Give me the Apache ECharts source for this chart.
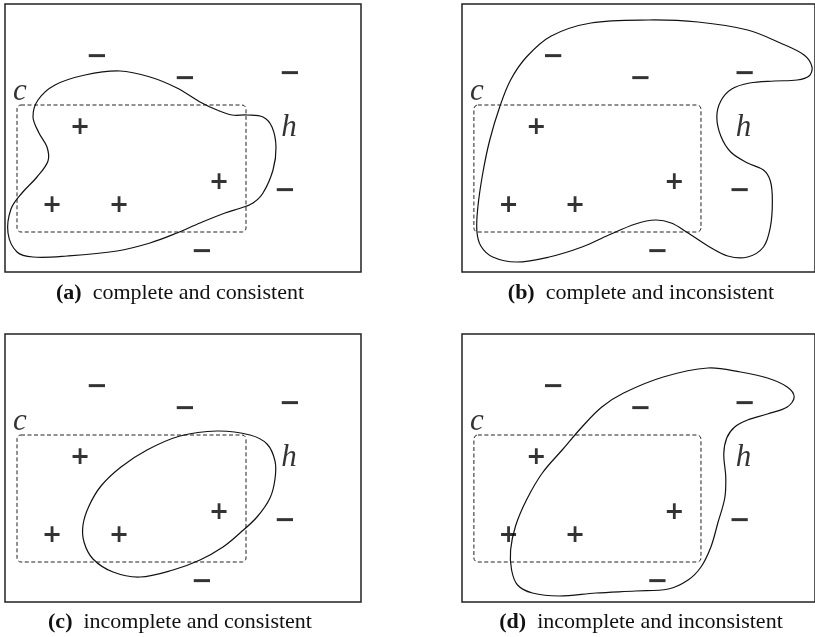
<!DOCTYPE html>
<html><head><meta charset="utf-8">
<script src="https://cdn.jsdelivr.net/npm/echarts@6.0.0/dist/echarts.min.js"></script>
<style>html,body{margin:0;padding:0;background:#fff}#c{width:815px;height:637px}</style>
</head><body><div id="c"></div>
<script>
// ---- data (diagram coordinates, one unit = one panel pixel) ----
const panelTags = ['(a)', '(b)', '(c)', '(d)'];
const panelTexts = ['complete and consistent', 'complete and inconsistent', 'incomplete and consistent', 'incomplete and inconsistent'];

const plusX = [75, 47, 114, 214];
const plusY = [124, 202, 202, 179];
const minusX = [92, 180, 285, 280, 197];
const minusY = [53, 75, 70, 187, 248];
const letterNames = ['c', 'h'];
const letterX = [15, 284];
const letterY = [88, 124];
const conceptBox = [12, 101, 241, 228];

const hypothesisA = [[115,67],[145,73],[172,84],[195,98],[212,106],[227,111],[242,111],[258,113],[267,123],[271,143],[268,166],[258,189],[248,199],[236,204],[220,209],[195,219],[172,229],[145,239],[112,247],[62,252],[28,253],[12,248],[3,229],[6,205],[17,189],[32,173],[43,157],[42,143],[34,129],[28,113],[33,96],[50,81],[80,71]];
const hypothesisB = [[188,16],[238,18],[288,26],[321,39],[345,51],[353,63],[350,72],[338,76],[315,77],[290,79],[272,85],[261,97],[257,113],[261,132],[271,148],[288,159],[304,166],[311,177],[313,197],[311,223],[304,243],[288,253],[268,252],[248,242],[228,229],[211,219],[195,216],[175,220],[148,231],[121,243],[88,253],[55,258],[31,253],[19,242],[15,227],[16,203],[21,169],[28,136],[38,103],[49,76],[65,53],[90,32],[130,19]];
const hypothesisC = [[212,97],[245,101],[262,110],[270,127],[270,145],[265,164],[252,183],[235,199],[218,213],[195,226],[168,236],[135,243],[108,238],[88,225],[79,208],[78,191],[84,172],[96,152],[116,133],[142,116],[175,102]];
const hypothesisD = [[248,34],[281,38],[308,44],[328,53],[335,63],[328,73],[308,80],[288,86],[275,93],[267,104],[264,120],[266,143],[265,164],[258,189],[251,213],[241,233],[228,246],[208,255],[175,257],[135,259],[98,262],[71,259],[56,251],[50,236],[49,216],[54,192],[65,166],[81,139],[101,116],[121,93],[141,73],[163,59],[203,43]];
const hypotheses = [hypothesisA, hypothesisB, hypothesisC, hypothesisD];

// ---- layout ----
const W = 356, H = 268;
const panelLeft = [5, 462, 5, 462];
const panelTop = [4, 4, 334, 334];
const captionY = [293, 293, 622, 622];
const captionX = [180, 641, 180, 641];

const grid = [], xAxis = [], yAxis = [], series = [], graphic = [];
for (let i = 0; i < 4; i++) {
  grid.push({left: panelLeft[i], top: panelTop[i], width: W, height: H, show: true,
    borderColor: '#222', borderWidth: 1.5, backgroundColor: 'transparent'});
  xAxis.push({type: 'value', gridIndex: i, min: 0, max: W, show: false});
  yAxis.push({type: 'value', gridIndex: i, min: 0, max: H, inverse: true, show: false});
  const base = {xAxisIndex: i, yAxisIndex: i, silent: true, animation: false};
  series.push(Object.assign({type: 'custom', encode: {x: [0, 2], y: [1, 3]},
    data: [conceptBox],
    renderItem: (params, api) => {
      const p1 = api.coord([api.value(0), api.value(1)]);
      const p2 = api.coord([api.value(2), api.value(3)]);
      return {type: 'rect', shape: {x: p1[0], y: p1[1], width: p2[0] - p1[0], height: p2[1] - p1[1], r: 4},
        style: {fill: 'none', stroke: '#222', lineWidth: 1, lineDash: [4, 2.5]}};
    }}, base));
  const pts = hypotheses[i];
  series.push(Object.assign({type: 'custom', encode: {x: 0, y: 1}, data: pts,
    renderItem: (params, api) => {
      if (params.dataIndex !== 0) return null;
      const coords = pts.map(p => api.coord(p));
      return {type: 'polygon', shape: {points: coords, smooth: 0.35},
        style: {fill: 'none', stroke: '#111', lineWidth: 1.2}};
    }}, base));
  const markLabel = (txt, size, weight) => ({show: true, position: 'inside', formatter: txt,
    fontFamily: 'DejaVu Sans', fontSize: size, fontWeight: weight, color: '#000'});
  series.push(Object.assign({type: 'scatter', symbolSize: 1, itemStyle: {color: 'rgba(0,0,0,0)'},
    data: plusX.map((x, k) => [x, plusY[k]]), label: markLabel('+', 24, 'bold')}, base));
  series.push(Object.assign({type: 'scatter', symbolSize: 1, itemStyle: {color: 'rgba(0,0,0,0)'},
    data: minusX.map((x, k) => [x, minusY[k]]), label: markLabel('\u2212', 26, 'bold')}, base));
  series.push(Object.assign({type: 'scatter', symbolSize: 1, itemStyle: {color: 'rgba(0,0,0,0)'},
    data: letterX.map((x, k) => [x, letterY[k], letterNames[k]]),
    label: {show: true, position: 'inside', formatter: p => p.data[2], fontFamily: 'Liberation Serif',
      fontStyle: 'italic', fontSize: 31, color: '#000'}}, base));
  graphic.push({type: 'text', x: captionX[i], y: captionY[i], silent: true,
    style: {text: '{b|' + panelTags[i] + '}  ' + panelTexts[i], align: 'center', verticalAlign: 'middle',
      font: '22px "Liberation Serif"', fill: '#111',
      rich: {b: {fontWeight: 'bold', fontFamily: 'Liberation Serif', fontSize: 22, fill: '#111'}}}});
}

const chart = echarts.init(document.getElementById('c'), null, {renderer: 'canvas'});
chart.setOption({animation: false, backgroundColor: '#fff', grid, xAxis, yAxis, series, graphic});
</script>
</body></html>
